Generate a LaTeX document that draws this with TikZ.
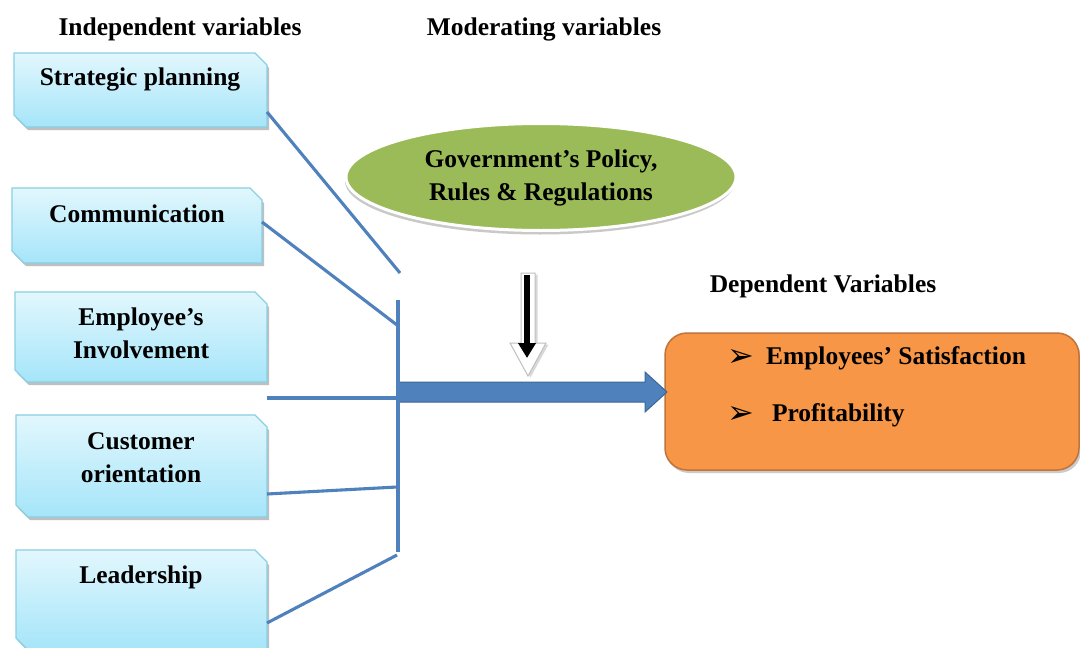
\documentclass[tikz,border=0pt]{standalone}
\usepackage{fontspec}
\setmainfont{Liberation Serif}
\newfontfamily\symfont{DejaVu Sans}
\usetikzlibrary{shapes.geometric,shadows,arrows.meta,calc}

\definecolor{cyantop}{HTML}{E2F7FD}
\definecolor{cyanbot}{HTML}{A5E5F9}
\definecolor{cyanedge}{HTML}{8ACFE2}
\definecolor{linkblue}{HTML}{4F81BD}
\definecolor{linkdark}{HTML}{3A6799}
\definecolor{govgreen}{HTML}{9BBB59}
\definecolor{deporange}{HTML}{F79646}
\definecolor{depedge}{HTML}{C0733A}

% outline of a box with its north-east and south-west corners cut off
\newcommand\snipbox[1]{%
  \path[snip] (#1.north west) -- ([xshift=-12pt]#1.north east)
    -- ([yshift=-12pt]#1.north east) -- (#1.south east)
    -- ([xshift=12pt]#1.south west) -- ([yshift=12pt]#1.south west) -- cycle;}

\begin{document}
\begin{tikzpicture}[x=1pt,y=-1pt,
  every node/.style={font=\fontsize{25.5}{33}\selectfont\bfseries,
    inner sep=0pt, outer sep=0pt},
  heading/.style={anchor=base},
  label text/.style={anchor=base, align=center},
  indep/.style={rectangle},
  snip/.style={draw=cyanedge, line width=1.2pt,
    top color=cyantop, bottom color=cyanbot,
    drop shadow={shadow xshift=2pt, shadow yshift=-3pt,
      fill=black!45, opacity=0.55}},
  link/.style={draw=linkblue, line width=3.1pt},
  bullet/.style={anchor=base, font=\symfont\fontsize{32}{32}\selectfont}
]
\clip (0,0) rectangle (1080,648);
\fill[white] (0,0) rectangle (1080,648);

% column headings
\node[heading] (h-ind) at (180,35) {Independent variables};
\node[heading] (h-mod) at (544,35) {Moderating variables};
\node[heading] (h-dep) at (823,292) {Dependent Variables};

% independent variables
\node[indep, minimum width=253, minimum height=74] (sp) at (140.5,90) {};
\node[indep, minimum width=250, minimum height=75] (com) at (137,225.5) {};
\node[indep, minimum width=252, minimum height=90] (ei) at (141,337) {};
\node[indep, minimum width=251, minimum height=102] (co) at (141.5,466) {};
\node[indep, minimum width=251, minimum height=100] (ld) at (141.5,600) {};
\snipbox{sp}\snipbox{com}\snipbox{ei}\snipbox{co}\snipbox{ld}

\node[label text] (sp-t) at (140,85) {Strategic planning};
\node[label text] (com-t) at (137,222) {Communication};
\node[label text] (ei-t) at (141,358) {Employee’s\\Involvement};
\node[label text] (co-t) at (141,482) {Customer\\orientation};
\node[label text] (ld-t) at (141,583) {Leadership};

% junction points on the collecting bar
\coordinate (j1) at (400,273);
\coordinate (bartop) at (398,300);
\coordinate (j2) at (397,325);
\coordinate (j3) at (398,398);
\coordinate (j4) at (397,487);
\coordinate (j5) at (397,555);
\coordinate (barbot) at (398,552);
\coordinate (tail) at (397,392);
\coordinate (tip) at (667,392);

% dependent variables
\node[rounded corners=22pt, fill=deporange, draw=depedge, line width=1.5pt,
  minimum width=414, minimum height=137,
  drop shadow={shadow xshift=2pt, shadow yshift=-3pt, fill=black!40, opacity=0.5}]
  (dep) at (872,401.5) {};
\node[bullet] (b1) at (741,366) {➢};
\node[anchor=base west] (dv1) at (766,364) {Employees’ Satisfaction};
\node[bullet] (b2) at (741,423) {➢};
\node[anchor=base west] (dv2) at (772,421) {Profitability};

% main arrow into the dependent variables
\filldraw[fill=linkblue, draw=linkdark, line width=1pt]
  ($(tail)+(0,-10)$) -- ($(tip)+(-22,-10)$) -- ($(tip)+(-22,-20)$) -- (tip)
  -- ($(tip)+(-22,20)$) -- ($(tip)+(-22,10)$) -- ($(tail)+(0,10)$) -- cycle;

% connectors from each independent variable
\draw[link] ([yshift=-22pt]sp.east) -- (j1);
\draw[link] ([yshift=3.5pt]com.east) -- (j2);
\draw[link] ([yshift=-16pt]ei.south east) -- (j3);
\draw[link] ([yshift=-28pt]co.east) -- (j4);
\draw[link] ([yshift=-23pt]ld.east) -- (j5);
\draw[link] (bartop) -- (barbot);

% moderating variable
\node[ellipse, minimum width=390, minimum height=107, fill=govgreen,
  draw=white, line width=3pt,
  drop shadow={shadow xshift=-1pt, shadow yshift=-4pt, fill=black!35, opacity=0.6}]
  (gov) at (541,177) {};
\node[label text] (gov-t) at (541,200) {Government’s Policy,\\Rules \& Regulations};

% moderating arrow
\coordinate (mtop) at (528,273);
\coordinate (mtip) at (528,376);
\filldraw[fill=white, draw=black!25, line width=1pt,
  drop shadow={shadow xshift=2.5pt, shadow yshift=-1.5pt, fill=black!25, opacity=0.6}]
  ($(mtop)+(-7,0)$) -- ($(mtop)+(7,0)$) -- ($(mtip)+(7,-33)$) -- ($(mtip)+(18,-33)$)
  -- (mtip) -- ($(mtip)+(-18,-33)$) -- ($(mtip)+(-7,-33)$) -- cycle;
\draw[line width=6pt, -{Triangle[width=17pt,length=15pt]}]
  ($(mtop)+(-1,2)$) -- ($(mtip)+(-1,-18)$);
\end{tikzpicture}
\end{document}
